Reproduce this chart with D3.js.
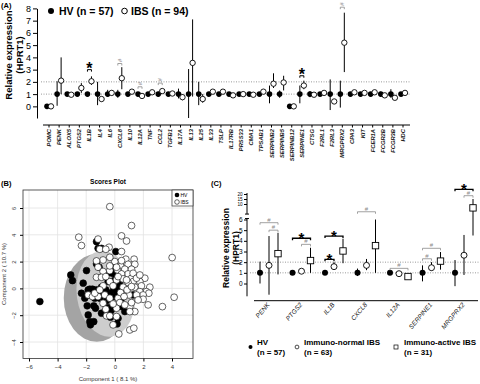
<!DOCTYPE html>
<html>
<head>
<meta charset="utf-8">
<script src="https://cdn.jsdelivr.net/npm/d3@7"></script>
<style>
  body { margin: 0; background: #fff; }
  svg { font-family: "Liberation Sans", Arial, Helvetica, sans-serif; }
</style>
</head>
<body>
<div id="chart"></div>
<script>
// ---------- data: panel A (median + range, HV vs IBS)
const genesA = ['POMC', 'PENK', 'ALOX5', 'PTGS2', 'IL1B', 'IL4', 'IL6', 'CXCL8', 'IL10', 'IL12A',
  'TNF', 'CCL2', 'TGFB1', 'IL17A', 'IL13', 'IL25', 'IL33', 'TSLP', 'IL17RB', 'PRSS33', 'CMA1',
  'TPSAB1', 'SERPINB2', 'SERPINB5', 'SERPINB12', 'SERPINE1', 'CTSG', 'F2RL1', 'F2RL3', 'MRGPRX2',
  'CPA3', 'KIT', 'FCER1A', 'FCGR2B', 'FCGR3B', 'HDC']
const hvA =   [0, 1, 1, 1, 1, 1, 1, 1, 1, 1, 1, 1, 1, 1, 1, 1, 1, 1, 1, 1, 1, 1, 1, 1, 0, 1, 1, 1, 1, 1, 1, 1, 1, 1, 1, 1]
const hvLoA = [0, 0.05, 0.9, 0.9, 0.85, 0.1, 0.8, 0.7, 0.9, 0.85, 0.9, 0.8, 0.9, 0.65, -0.95, 0.1, 0.9, 0.9,
  0.85, 0.9, 0.9, 0.9, 0.25, 0.7, 0, 0.25, 0.75, 0.9, -0.3, -0.1, 0.9, 0.9, 0.9, 0.8, 0.7, 0.9]
const hvHiA = [0, 2.05, 1.1, 1.1, 1.15, 2.0, 1.35, 1.35, 1.1, 1.15, 1.1, 1.2, 1.1, 1.45, 3.05, 2.0, 1.1, 1.1,
  1.15, 1.1, 1.1, 1.1, 1.7, 1.3, 0, 1.7, 1.25, 1.1, 2.2, 2.1, 1.1, 1.1, 1.1, 1.2, 1.4, 1.1]
const ibsA =   [0, 2.1, 0.95, 1.5, 2.05, 0.6, 1.1, 2.3, 1.2, 0.85, 1.15, 1.25, 1.05, 0.75, 3.55, 0.6, 1.2, 1.2,
  0.9, 1.0, 0.95, 1.2, 1.85, 1.95, 0, 1.7, 0.95, 1.1, 0.4, 5.2, 1.15, 1.1, 1.15, 0.9, 0.7, 1.1]
const ibsLoA = [0, 1.0, 0.85, 1.1, 1.75, 0.4, 0.9, 1.4, 1.05, 0.75, 1.0, 1.1, 0.95, 0.5, 0.8, 0.3, 1.05, 1.05,
  0.8, 0.9, 0.85, 1.05, 1.5, 1.3, 0, 1.4, 0.85, 1.0, 0.3, 2.8, 1.0, 1.0, 1.0, 0.8, 0.55, 1.0]
const ibsHiA = [0, 4.0, 1.05, 1.9, 2.45, 0.8, 1.3, 3.2, 1.35, 0.95, 1.3, 1.4, 1.15, 1.0, 7.1, 1.0, 1.35, 1.35,
  1.0, 1.1, 1.05, 1.35, 2.7, 2.5, 0, 2.1, 1.05, 1.2, 0.5, 7.65, 1.3, 1.2, 1.3, 1.0, 0.9, 1.2]
const sigGenesA = ['IL1B', 'CXCL8', 'IL12A', 'CCL2', 'SERPINE1', 'MRGPRX2']
const sigMarksA = ['*', '#', '#', '#', '*', '#']
const sigLevelA = [3.0, 3.5, 1.6, 1.9, 2.5, 8.1]
const ticksA = [0, 1, 2, 3, 4, 5, 6, 7, 8]

// ---------- data: panel B (PLS-DA scores)
const hvScores = [[-5.24, -0.98], [-3.08, 1.0], [-2.96, 0.58], [-1.98, 1.33], [-2.33, -0.36], [-2.1, -0.73],
  [-1.93, -1.3], [-1.86, -1.98], [-1.75, -2.48], [-1.7, -2.72], [-1.47, -2.48], [-1.75, -0.06], [-1.56, -0.06],
  [-1.79, -0.49], [-1.4, -0.73], [-1.14, -0.49], [-1.28, 3.49], [-1.17, 2.99], [-0.93, 2.99], [-1.28, 1.83],
  [-1.1, 1.58], [-0.93, 0.09], [-1.05, -0.73], [-0.82, -0.61], [-0.63, -0.11], [-0.58, -0.91], [-0.93, -1.85],
  [-0.47, 0.51], [-0.35, 1.18], [-0.35, -0.36], [-0.47, -1.43], [-0.35, -1.85], [-0.3, -2.15], [-0.23, -1.6],
  [-0.12, -1.36], [0.07, 2.75], [0.07, 0.76], [0, -0.61], [0.16, -2.65], [0.23, -2.23], [0.12, -0.24],
  [0.28, 0.09], [0.47, -0.73], [0.7, -1.73], [1.28, -0.49], [-0.07, -0.06], [-0.23, 0.51], [-1.47, -1.3],
  [-1.35, -1.48], [-0.16, 1.13], [-0.65, -0.73], [0.35, 0.51], [-1.86, -0.11], [-2.21, 0.39], [-1.28, -0.11],
  [0.47, -1.36], [-0.12, 1.63]]
const ibsScores = [[-0.35, 6.1], [1.17, 4.69], [0.47, 3.92], [0.82, 3.54], [-2.52, 3.82], [-2.33, 3.2],
  [-1.17, 3.68], [-0.4, 3.07], [-1.05, 2.92], [-0.63, 2.92], [-0.82, 2.12], [-1.28, 2.05], [0, 2.0],
  [-0.35, 2.32], [0.77, 2.18], [1.35, 2.18], [1.4, 1.8], [0.93, 1.8], [0.4, 1.68], [-1.17, 1.58], [0.19, 1.38],
  [0.7, 1.43], [1.17, 1.43], [-0.35, 1.33], [-0.82, 1.26], [0.93, 1.08], [0.47, 1.08], [-1.28, 0.83],
  [-0.93, 0.83], [0.12, 0.63], [0.58, 0.71], [1.17, 0.76], [2.1, 0.76], [1.75, 0.51], [1.28, 0.51], [0.93, 0.44],
  [-0.35, 0.51], [-0.82, 0.19], [2.45, 0.09], [1.86, 0.19], [1.4, 0.09], [0.58, 0.09], [2.21, -0.24],
  [1.75, -0.24], [2.38, -0.36], [1.98, -0.49], [1.52, -0.49], [1.0, -0.49], [0.86, -0.11], [-1.86, -0.49],
  [-1.56, -0.61], [-1.17, -0.61], [-0.7, -0.49], [-0.35, -0.73], [0.23, -0.73], [0.35, -1.06], [1.05, -1.36],
  [1.98, -0.81], [2.33, -1.23], [1.4, -1.73], [1.17, -1.06], [0.7, -1.23], [0.12, -1.48], [-0.12, -1.16],
  [-0.82, -1.11], [-0.58, -2.05], [-0.35, -2.05], [-0.12, -2.72], [0.28, -3.4], [1.05, -3.1], [1.33, -2.97],
  [4.01, 2.3], [3.33, -1.36], [4.15, -0.66], [0.12, 1.58], [0.47, 2.07], [-0.63, 0.88], [-0.12, 0.19],
  [0.4, -0.31], [0.65, -0.61], [-1.4, -0.36], [-1.05, -0.11], [0.12, -2.1], [1.63, -0.86], [1.28, 1.13],
  [1.52, 0.76], [0.47, 2.75], [0.82, 0.63], [-0.35, 1.68], [1.05, -1.73], [1.75, 1.0], [-0.63, -1.55],
  [0.23, 0.88], [1.17, 0.14]]
// confidence ellipses: centre x, centre y, semi-axis x, semi-axis y, tilt (deg)
const ellipseHV = [-1.26, -0.71, 2.31, 3.28, 0]
const ellipseIBS = [-0.63, -0.41, 2.03, 3.21, -8]
const ticksBx = [-6, -4, -2, 0, 2, 4]
const ticksBy = [-4, -2, 0, 2, 4, 6]

// ---------- data: panel C (three groups)
const genesC = ['PENK', 'PTGS2', 'IL1B', 'CXCL8', 'IL12A', 'SERPINE1', 'MRGPRX2']
const hvC =   [1, 1, 1, 1, 1, 1, 1]
const hvLoC = [0, 0.9, 0.85, 0.7, 0.9, 0.2, -0.25]
const hvHiC = [2.05, 1.1, 1.1, 1.4, 1.1, 1.7, 2.2]
const inC =   [1.7, 1.15, 1.58, 1.7, 0.92, 1.48, 2.65]
const inLoC = [-1.05, 1.05, 1.3, 1.25, 0.85, 1.2, 0.8]
const inHiC = [4.45, 1.3, 2.0, 2.3, 1.0, 2.0, 4.55]
const iaC =   [2.8, 2.15, 3.05, 3.55, 0.65, 2.1, 9.0]
const iaLoC = [0.85, 1.0, 1.9, 1.0, 0.5, 1.3, 4.5]
const iaHiC = [4.75, 3.35, 4.2, 6.0, 0.9, 2.95, 15]
// significance brackets: gene, from group, to group, mark, level
const sigGeneC = ['PENK', 'PENK', 'PTGS2', 'PTGS2', 'IL1B', 'IL1B', 'CXCL8', 'IL12A', 'SERPINE1', 'SERPINE1', 'MRGPRX2', 'MRGPRX2']
const sigFromC = [0, 1, 0, 1, 0, 0, 0, 0, 0, 0, 0, 1]
const sigToC =   [2, 2, 2, 2, 1, 2, 2, 2, 1, 2, 2, 2]
const sigMarkC = ['#', '#', '*', '#', '*', '*', '#', '#', '#', '#', '*', '#']
const sigLevelC = [5.7, 5.0, 4.24, 3.67, 2.27, 4.45, 8.0, 1.42, 2.32, 3.3, 24.7, 18.3]
const ticksClow = [0, 1, 2, 3, 4, 5, 6]
const ticksChigh = [10, 15, 20]

const svg = d3.select('#chart').append('svg')
  .attr('width', 480)
  .attr('height', 384)

const grey = '#8a8a8a'

function bracket(g, x1, x2, y, color, w) {
  g.append('path')
    .attr('d', `M${x1},${y + 2}V${y}H${x2}V${y + 2}`)
    .attr('fill', 'none')
    .attr('stroke', color)
    .attr('stroke-width', w)
}

function styleAxis(g, size) {
  g.selectAll('text').attr('font-size', size).attr('fill', '#000')
  g.selectAll('line,path').attr('stroke', '#000')
}

// ================= Panel A =================
const a = svg.append('g')
a.append('text').attr('x', 1).attr('y', 8).attr('font-size', 7.5).attr('font-weight', 'bold').text('(A)')

const xA = d3.scalePoint().domain(genesA).range([49, 403])
const yA = d3.scaleLinear().domain([-0.95, 8]).range([118, 8.4])

// reference lines
;[1, 2].forEach(v => {
  a.append('line')
    .attr('x1', 41).attr('x2', 410)
    .attr('y1', yA(v)).attr('y2', yA(v))
    .attr('stroke', '#9a9a9a').attr('stroke-width', 1)
    .attr('stroke-dasharray', '1,1.5')
})

const yAxisA = a.append('g')
  .attr('transform', 'translate(37,0)')
  .call(d3.axisLeft(yA).tickValues(ticksA).tickSize(4).tickSizeOuter(0).tickPadding(2))
styleAxis(yAxisA, 9)

// x axis
a.append('line').attr('x1', 43).attr('x2', 410).attr('y1', 125).attr('y2', 125)
  .attr('stroke', '#000').attr('stroke-width', 1)
a.selectAll('.tickA').data(genesA).enter().append('line')
  .attr('x1', d => xA(d)).attr('x2', d => xA(d))
  .attr('y1', 125).attr('y2', 127.5)
  .attr('stroke', '#000')
a.selectAll('.labA').data(genesA).enter().append('text')
  .attr('transform', d => `translate(${xA(d) + 2},129) rotate(-90)`)
  .attr('text-anchor', 'end')
  .attr('font-size', 5.8)
  .attr('font-style', 'italic')
  .attr('font-weight', 'bold')
  .attr('fill', '#222')
  .text(d => d)

a.append('text')
  .attr('transform', 'translate(12,55) rotate(-90)')
  .attr('text-anchor', 'middle').attr('font-size', 9.5).attr('font-weight', 'bold')
  .text('Relative expression')
a.append('text')
  .attr('transform', 'translate(23,55) rotate(-90)')
  .attr('text-anchor', 'middle').attr('font-size', 9.5).attr('font-weight', 'bold')
  .text('(HPRT1)')

// error bars and points
const offA = 2
a.selectAll('.ebHV').data(genesA).enter().append('line')
  .attr('x1', d => xA(d) - offA).attr('x2', d => xA(d) - offA)
  .attr('y1', (d, i) => yA(hvLoA[i])).attr('y2', (d, i) => yA(hvHiA[i]))
  .attr('stroke', '#000').attr('stroke-width', 1)
a.selectAll('.ebIBS').data(genesA).enter().append('line')
  .attr('x1', d => xA(d) + offA).attr('x2', d => xA(d) + offA)
  .attr('y1', (d, i) => yA(ibsLoA[i])).attr('y2', (d, i) => yA(ibsHiA[i]))
  .attr('stroke', '#000').attr('stroke-width', 1)
a.selectAll('.ptHV').data(genesA).enter().append('circle')
  .attr('cx', d => xA(d) - offA).attr('cy', (d, i) => yA(hvA[i]))
  .attr('r', 2.8).attr('fill', '#000')
a.selectAll('.ptIBS').data(genesA).enter().append('circle')
  .attr('cx', d => xA(d) + offA).attr('cy', (d, i) => yA(ibsA[i]))
  .attr('r', 2.7).attr('fill', '#fff').attr('stroke', '#000').attr('stroke-width', 0.9)

sigGenesA.forEach((gname, i) => {
  const x = xA(gname)
  const y = yA(sigLevelA[i])
  if (sigMarksA[i] === '*') {
    bracket(a, x - offA, x + offA, y, '#000', 1)
    a.append('text').attr('x', x).attr('y', y + 4.5).attr('text-anchor', 'middle')
      .attr('font-size', 16).attr('font-weight', 'bold').text('*')
  } else {
    bracket(a, x - offA, x + offA, y, grey, 0.8)
    a.append('text').attr('transform', `translate(${x + 2},${y - 1.5}) rotate(-90)`)
      .attr('font-size', 6).attr('fill', grey).text('#')
  }
})

// legend A
a.append('circle').attr('cx', 51).attr('cy', 11).attr('r', 3).attr('fill', '#000')
a.append('text').attr('x', 59).attr('y', 15).attr('font-size', 10.5).attr('font-weight', 'bold').text('HV (n = 57)')
a.append('circle').attr('cx', 124.5).attr('cy', 11).attr('r', 2.8).attr('fill', '#fff').attr('stroke', '#000')
a.append('text').attr('x', 131).attr('y', 15).attr('font-size', 10.5).attr('font-weight', 'bold').text('IBS (n = 94)')

// ================= Panel B =================
const b = svg.append('g')
b.append('text').attr('x', 1).attr('y', 186).attr('font-size', 7.5).attr('font-weight', 'bold').text('(B)')
b.append('text').attr('x', 108).attr('y', 184).attr('text-anchor', 'middle')
  .attr('font-size', 6.5).attr('font-weight', 'bold').text('Scores Plot')

const xB = d3.scaleLinear().domain([-6, 4]).range([29, 172])
const yB = d3.scaleLinear().domain([-4, 6]).range([342, 208])
const boxB = { l: 23, r: 193, t: 190, b: 358.5 }

b.selectAll('.gx').data(ticksBx).enter().append('line')
  .attr('x1', d => xB(d)).attr('x2', d => xB(d)).attr('y1', boxB.t).attr('y2', boxB.b)
  .attr('stroke', '#e2e2e2').attr('stroke-width', 0.8)
b.selectAll('.gy').data(ticksBy).enter().append('line')
  .attr('y1', d => yB(d)).attr('y2', d => yB(d)).attr('x1', boxB.l).attr('x2', boxB.r)
  .attr('stroke', '#e2e2e2').attr('stroke-width', 0.8)

function drawEllipse(e, fill) {
  const cx = xB(e[0]), cy = yB(e[1])
  b.append('ellipse')
    .attr('transform', `translate(${cx},${cy}) rotate(${e[4]})`)
    .attr('rx', xB(e[0] + e[2]) - cx)
    .attr('ry', cy - yB(e[1] + e[3]))
    .attr('fill', fill)
}
drawEllipse(ellipseHV, '#a4a4a4')
drawEllipse(ellipseIBS, '#cdcdcd')

b.selectAll('.sHV').data(hvScores).enter().append('circle')
  .attr('cx', d => xB(d[0])).attr('cy', d => yB(d[1])).attr('r', 3.4)
  .attr('fill', '#000').attr('stroke', '#000').attr('stroke-width', 0.6)
b.selectAll('.sIBS').data(ibsScores).enter().append('circle')
  .attr('cx', d => xB(d[0])).attr('cy', d => yB(d[1])).attr('r', 3.4)
  .attr('fill', '#fff').attr('stroke', '#000').attr('stroke-width', 0.6)

b.append('rect').attr('x', boxB.l).attr('y', boxB.t)
  .attr('width', boxB.r - boxB.l).attr('height', boxB.b - boxB.t)
  .attr('fill', 'none').attr('stroke', '#333').attr('stroke-width', 0.8)

const xAxisB = b.append('g').attr('transform', `translate(0,${boxB.b})`)
  .call(d3.axisBottom(xB).tickValues(ticksBx).tickSize(3).tickSizeOuter(0).tickPadding(3))
xAxisB.select('.domain').remove()
styleAxis(xAxisB, 6)
xAxisB.selectAll('text').attr('fill', '#333')
const yAxisB = b.append('g').attr('transform', `translate(${boxB.l},0)`)
  .call(d3.axisLeft(yB).tickValues(ticksBy).tickSize(3).tickSizeOuter(0))
yAxisB.select('.domain').remove()
styleAxis(yAxisB, 6)
yAxisB.selectAll('text')
  .attr('x', 0).attr('dy', 0).attr('text-anchor', 'middle').attr('fill', '#333')
  .attr('transform', 'translate(-7,0) rotate(-90)')

b.append('text').attr('x', 108).attr('y', 381).attr('text-anchor', 'middle')
  .attr('font-size', 6).attr('fill', '#333').text('Component 1 ( 8.1 %)')
b.append('text').attr('transform', 'translate(6,274) rotate(-90)').attr('text-anchor', 'middle')
  .attr('font-size', 6).attr('fill', '#333').text('Component 2 ( 10.7 %)')

// legend B
b.append('rect').attr('x', 172).attr('y', 190).attr('width', 21).attr('height', 16)
  .attr('fill', '#fff').attr('stroke', '#333').attr('stroke-width', 0.7)
b.append('circle').attr('cx', 177).attr('cy', 195).attr('r', 2.3).attr('fill', '#000')
b.append('text').attr('x', 180.5).attr('y', 197).attr('font-size', 5).text('HV')
b.append('circle').attr('cx', 177).attr('cy', 202).attr('r', 2.3).attr('fill', '#fff').attr('stroke', '#000').attr('stroke-width', 0.6)
b.append('text').attr('x', 180.5).attr('y', 204).attr('font-size', 5).text('IBS')

// ================= Panel C =================
const c = svg.append('g')
c.append('text').attr('x', 211).attr('y', 186).attr('font-size', 7.5).attr('font-weight', 'bold').text('(C)')

const xC = d3.scalePoint().domain(genesC).range([269, 464])
const yC = d3.scaleLinear().domain([0, 6, 10, 20]).range([283.5, 219.5, 204, 194])
const offC = [-9, 0, 9]

;[1, 2].forEach(v => {
  c.append('line')
    .attr('x1', 250).attr('x2', 480)
    .attr('y1', yC(v)).attr('y2', yC(v))
    .attr('stroke', '#9a9a9a').attr('stroke-width', 1)
    .attr('stroke-dasharray', '1,1.5')
})

const yAxisC = c.append('g').attr('transform', 'translate(247,0)')
  .call(d3.axisLeft(yC).tickValues(ticksClow.concat(ticksChigh)).tickSize(3).tickSizeOuter(0).tickPadding(1.5))
yAxisC.select('.domain').remove()
styleAxis(yAxisC, 6.5)
yAxisC.selectAll('.tick').filter(d => d >= 10).select('text').attr('font-size', 4.6)
// broken axis segments
const segs = [[yC(21), yC(7.4)], [yC(6.25), yC(-1.2)]]
segs.forEach(s => {
  c.append('line').attr('x1', 247).attr('x2', 247).attr('y1', s[0]).attr('y2', s[1])
    .attr('stroke', '#000').attr('stroke-width', 1)
})
;[segs[0][1], segs[1][0]].forEach(y => {
  c.append('line').attr('x1', 245).attr('x2', 249).attr('y1', y).attr('y2', y)
    .attr('stroke', '#000').attr('stroke-width', 1)
})

c.append('line').attr('x1', 254).attr('x2', 478).attr('y1', 300.7).attr('y2', 300.7)
  .attr('stroke', '#000').attr('stroke-width', 1)
c.selectAll('.labC').data(genesC).enter().append('text')
  .attr('transform', d => `translate(${xC(d) + 1},305) rotate(-50)`)
  .attr('text-anchor', 'end')
  .attr('font-size', 6.5)
  .attr('font-style', 'italic')
  .attr('fill', '#111')
  .text(d => d)

c.append('text')
  .attr('transform', 'translate(229,248) rotate(-90)')
  .attr('text-anchor', 'middle').attr('font-size', 8.5).attr('font-weight', 'bold')
  .text('Relative expression')
c.append('text')
  .attr('transform', 'translate(238.5,248) rotate(-90)')
  .attr('text-anchor', 'middle').attr('font-size', 8.5).attr('font-weight', 'bold')
  .text('(HPRT1)')

const groupsC = [[hvC, hvLoC, hvHiC], [inC, inLoC, inHiC], [iaC, iaLoC, iaHiC]]
groupsC.forEach((grp, k) => {
  c.selectAll('.eb' + k).data(genesC).enter().append('line')
    .attr('x1', d => xC(d) + offC[k]).attr('x2', d => xC(d) + offC[k])
    .attr('y1', (d, i) => yC(grp[1][i])).attr('y2', (d, i) => yC(grp[2][i]))
    .attr('stroke', '#000').attr('stroke-width', 1)
})
c.selectAll('.pHV').data(genesC).enter().append('circle')
  .attr('cx', d => xC(d) + offC[0]).attr('cy', (d, i) => yC(hvC[i])).attr('r', 3).attr('fill', '#000')
c.selectAll('.pIN').data(genesC).enter().append('circle')
  .attr('cx', d => xC(d) + offC[1]).attr('cy', (d, i) => yC(inC[i])).attr('r', 3)
  .attr('fill', '#fff').attr('stroke', '#000').attr('stroke-width', 0.9)
c.selectAll('.pIA').data(genesC).enter().append('rect')
  .attr('x', d => xC(d) + offC[2] - 3.2).attr('y', (d, i) => yC(iaC[i]) - 3.2)
  .attr('width', 6.4).attr('height', 6.4)
  .attr('fill', '#fff').attr('stroke', '#000').attr('stroke-width', 0.9)

sigGeneC.forEach((gname, i) => {
  const x1 = xC(gname) + offC[sigFromC[i]]
  const x2 = xC(gname) + offC[sigToC[i]]
  const y = yC(sigLevelC[i])
  if (sigMarkC[i] === '*') {
    bracket(c, x1, x2, y, '#000', 1.3)
    c.append('text').attr('x', (x1 + x2) / 2).attr('y', y + 4.5).attr('text-anchor', 'middle')
      .attr('font-size', 15).attr('font-weight', 'bold').text('*')
  } else {
    bracket(c, x1, x2, y, grey, 0.8)
    c.append('text').attr('x', (x1 + x2) / 2).attr('y', y - 1.2).attr('text-anchor', 'middle')
      .attr('font-size', 6).attr('fill', grey).text('#')
  }
})

// legend C
c.append('circle').attr('cx', 250.5).attr('cy', 347).attr('r', 2).attr('fill', '#000')
c.append('text').attr('x', 257).attr('y', 344.5).attr('font-size', 8).attr('font-weight', 'bold').text('HV')
c.append('text').attr('x', 257).attr('y', 354.5).attr('font-size', 8).attr('font-weight', 'bold').text('(n = 57)')
c.append('circle').attr('cx', 297).attr('cy', 347).attr('r', 1.9).attr('fill', '#fff').attr('stroke', '#000').attr('stroke-width', 0.7)
c.append('text').attr('x', 304).attr('y', 344.5).attr('font-size', 8).attr('font-weight', 'bold').text('Immuno-normal IBS')
c.append('text').attr('x', 304).attr('y', 354.5).attr('font-size', 8).attr('font-weight', 'bold').text('(n = 63)')
c.append('rect').attr('x', 394).attr('y', 345).attr('width', 4).attr('height', 4)
  .attr('fill', '#fff').attr('stroke', '#000').attr('stroke-width', 0.7)
c.append('text').attr('x', 404).attr('y', 344.5).attr('font-size', 8).attr('font-weight', 'bold').text('Immuno-active IBS')
c.append('text').attr('x', 404).attr('y', 354.5).attr('font-size', 8).attr('font-weight', 'bold').text('(n = 31)')
</script>
</body>
</html>
